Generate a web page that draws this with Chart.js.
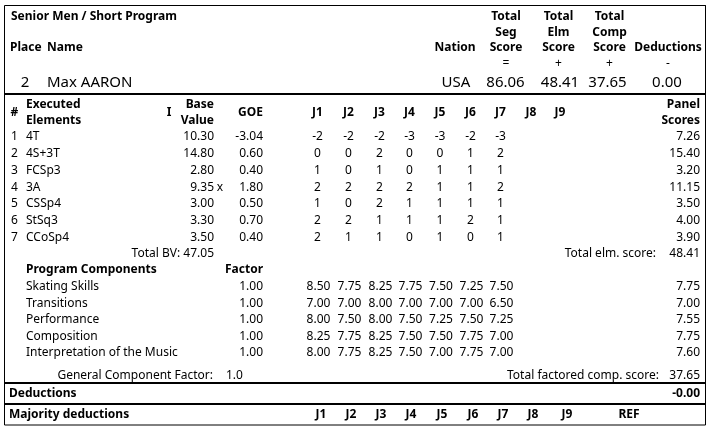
<!DOCTYPE html>
<html>
<head>
<meta charset="utf-8">
<script src="https://cdn.jsdelivr.net/npm/chart.js@4.4.1/dist/chart.umd.min.js"></script>
<style>
    html, body { margin: 0; padding: 0; background: #ffffff; }
    #wrap { width: 710px; height: 429px; }
</style>
</head>
<body>
<div id="wrap"><canvas id="sheet"></canvas></div>
<script>
// ---- data ----
const segmentTitle = 'Senior Men / Short Program';
const skaterPlace = '2';
const skaterName = 'Max AARON';
const skaterNation = 'USA';
const totalHeads = [['Total', 'Seg', 'Score'], ['Total', 'Elm', 'Score'], ['Total', 'Comp', 'Score']];
const totalSigns = ['=', '+', '+', '-'];
const totalValues = [86.06, 48.41, 37.65, 0.00];   // seg, elm, comp, deductions

const elementCodes = ['4T', '4S+3T', 'FCSp3', '3A', 'CSSp4', 'StSq3', 'CCoSp4'];
const elementInfo = ['', '', '', 'x', '', '', ''];
const baseValues = [10.30, 14.80, 2.80, 9.35, 3.00, 3.30, 3.50];
const goeValues = [-3.04, 0.60, 0.40, 1.80, 0.50, 0.70, 0.40];
const judgeGoe = [
    [-2, -2, -2, -3, -3, -2, -3],
    [0, 0, 2, 0, 0, 1, 2],
    [1, 0, 1, 0, 1, 1, 1],
    [2, 2, 2, 2, 1, 1, 2],
    [1, 0, 2, 1, 1, 1, 1],
    [2, 2, 1, 1, 1, 2, 1],
    [2, 1, 1, 0, 1, 0, 1]
];
const elementScores = [7.26, 15.40, 3.20, 11.15, 3.50, 4.00, 3.90];
const totalBV = 47.05;
const totalElm = 48.41;

const componentNames = ['Skating Skills', 'Transitions', 'Performance', 'Composition', 'Interpretation of the Music'];
const componentFactors = [1.00, 1.00, 1.00, 1.00, 1.00];
const judgeMarks = [
    [8.50, 7.75, 8.25, 7.75, 7.50, 7.25, 7.50],
    [7.00, 7.00, 8.00, 7.00, 7.00, 7.00, 6.50],
    [8.00, 7.50, 8.00, 7.50, 7.25, 7.50, 7.25],
    [8.25, 7.75, 8.25, 7.50, 7.50, 7.75, 7.00],
    [8.00, 7.75, 8.25, 7.50, 7.00, 7.75, 7.00]
];
const componentScores = [7.75, 7.00, 7.55, 7.75, 7.60];
const generalFactor = '1.0';
const totalComp = 37.65;
const deductionValue = '-0.00';
const judgeLabels = ['J1', 'J2', 'J3', 'J4', 'J5', 'J6', 'J7', 'J8', 'J9'];

// ---- layout (sheet units = pixels of the 710x429 page) ----
const judgeX = [317.5, 348.5, 379.5, 409.5, 440, 470.5, 500.5, 531, 560];
const judgeFootX = [321, 351, 381, 411, 442, 473, 503, 533, 567];
const totalX = [506, 558.5, 609.5, 668];
const totalValueX = [505.5, 560, 607.5, 667];
const elementRowY = [135, 152, 169, 186, 202, 219, 236];
const componentRowY = [285.5, 302, 318.5, 335, 351.5];
const textNudge = 1.5;   // canvas 'middle' sits a little above the glyph centre

const fmt = v => v.toFixed(2);

const bold = [], regular = [], large = [];
function cell(list, x, y, t, a) { list.push({ x: x, y: y, t: t, a: a || 'left' }); }

// header block
cell(bold, 11, 15, segmentTitle);
totalHeads.forEach((lines, i) => {
    lines.forEach((t, k) => cell(bold, totalX[i], [15, 31, 46][k], t, 'center'));
});
cell(bold, 10, 46, 'Place');
cell(bold, 47, 46, 'Name');
cell(bold, 455, 46, 'Nation', 'center');
cell(bold, totalX[3], 46, 'Deductions', 'center');
totalSigns.forEach((s, i) => cell(regular, totalX[i], 62, s, 'center'));
cell(large, 25, 81, skaterPlace, 'center');
cell(large, 47, 81, skaterName);
cell(large, 456, 81, skaterNation, 'center');
totalValues.forEach((v, i) => cell(large, totalValueX[i], 81, fmt(v), 'center'));

// executed elements
cell(bold, 14.5, 111, '#', 'center');
cell(bold, 26, 103, 'Executed');
cell(bold, 26, 119, 'Elements');
cell(bold, 169, 111, 'I', 'center');
cell(bold, 214, 103, 'Base', 'right');
cell(bold, 214, 119, 'Value', 'right');
cell(bold, 263, 111, 'GOE', 'right');
judgeLabels.forEach((j, i) => cell(bold, judgeX[i], 111, j, 'center'));
cell(bold, 700, 103, 'Panel', 'right');
cell(bold, 700, 119, 'Scores', 'right');

elementCodes.forEach((code, r) => {
    const y = elementRowY[r];
    cell(regular, 14.5, y, String(r + 1), 'center');
    cell(regular, 26, y, code);
    cell(regular, 214, y, fmt(baseValues[r]), 'right');
    if (elementInfo[r]) cell(regular, 220, y, elementInfo[r], 'center');
    cell(regular, 263, y, fmt(goeValues[r]), 'right');
    judgeGoe[r].forEach((g, j) => cell(regular, judgeX[j], y, String(g), 'center'));
    cell(regular, 700, y, fmt(elementScores[r]), 'right');
});
cell(regular, 214, 252.5, 'Total BV: ' + fmt(totalBV), 'right');
cell(regular, 656, 252.5, 'Total elm. score:', 'right');
cell(regular, 700, 252.5, fmt(totalElm), 'right');

// program components
cell(bold, 26, 268.5, 'Program Components');
cell(bold, 263, 268.5, 'Factor', 'right');
componentNames.forEach((name, r) => {
    const y = componentRowY[r];
    cell(regular, 26, y, name);
    cell(regular, 263, y, fmt(componentFactors[r]), 'right');
    judgeMarks[r].forEach((m, j) => cell(regular, judgeX[j] + 1, y, fmt(m), 'center'));
    cell(regular, 700, y, fmt(componentScores[r]), 'right');
});
cell(regular, 213, 374, 'General Component Factor:', 'right');
cell(regular, 226, 374, generalFactor);
cell(regular, 659, 374, 'Total factored comp. score:', 'right');
cell(regular, 700, 374, fmt(totalComp), 'right');

// deductions
cell(bold, 9, 392.5, 'Deductions');
cell(bold, 700, 392.5, deductionValue, 'right');
cell(bold, 9, 413.5, 'Majority deductions');
judgeLabels.forEach((j, i) => cell(bold, judgeFootX[i], 413.5, j, 'center'));
cell(bold, 629, 413.5, 'REF', 'center');

// table rules
function rule(points, width) {
    return { type: 'scatter', data: points, showLine: true, borderColor: '#000000', borderWidth: width,
             pointRadius: 0, fill: false, tension: 0 };
}
const rules = [
    rule([{ x: 4.5, y: 5.5 }, { x: 705.5, y: 5.5 }, { x: 705.5, y: 425 }, { x: 4.5, y: 425 }, { x: 4.5, y: 5.5 }], 1),
    rule([{ x: 4, y: 94 }, { x: 706, y: 94 }], 2),
    rule([{ x: 4, y: 383 }, { x: 706, y: 383 }], 2),
    rule([{ x: 4, y: 404 }, { x: 706, y: 404 }], 2)
];

function textSet(list, font) {
    return { type: 'scatter', data: list, pointRadius: 0, showLine: false, textFont: font };
}

const cellText = {
    id: 'cellText',
    afterDatasetsDraw(chart) {
        const ctx = chart.ctx;
        chart.data.datasets.forEach((ds, di) => {
            if (!ds.textFont) return;
            const meta = chart.getDatasetMeta(di);
            ctx.save();
            ctx.font = ds.textFont;
            ctx.fillStyle = '#000000';
            ctx.textBaseline = 'middle';
            meta.data.forEach((pt, i) => {
                const c = ds.data[i];
                ctx.textAlign = c.a;
                ctx.fillText(c.t, pt.x, pt.y + textNudge);
            });
            ctx.restore();
        });
    }
};

new Chart(document.getElementById('sheet').getContext('2d'), {
    type: 'scatter',
    data: {
        datasets: rules.concat([
            textSet(bold, 'bold 12px "Noto Sans"'),
            textSet(regular, '12px "Noto Sans"'),
            textSet(large, '15px "Noto Sans"')
        ])
    },
    options: {
        responsive: true,
        maintainAspectRatio: false,
        animation: false,
        events: [],
        layout: { padding: 0 },
        plugins: { legend: { display: false }, tooltip: { enabled: false } },
        scales: {
            x: { type: 'linear', min: 0, max: 710, display: false },
            y: { type: 'linear', min: 0, max: 429, reverse: true, display: false }
        }
    },
    plugins: [cellText]
});
</script>
</body>
</html>
